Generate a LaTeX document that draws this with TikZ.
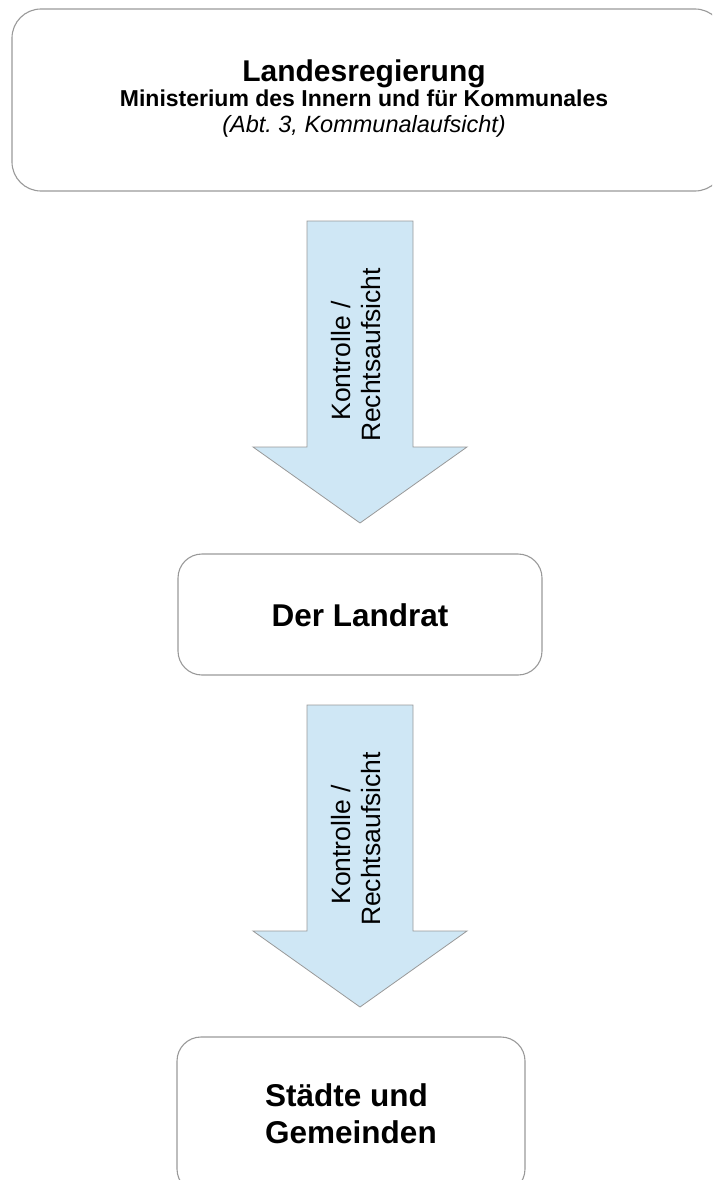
\documentclass[tikz,border=0pt]{standalone}
\usepackage{fontspec}
\setmainfont{Liberation Sans}
\frenchspacing
\definecolor{arrowfill}{HTML}{CFE7F5}
\definecolor{edgegray}{HTML}{999999}
\begin{document}
\begin{tikzpicture}[x=1pt,y=-1pt,
  boxstyle/.style={draw=edgegray, line width=1.1pt, rounded corners=24pt, inner sep=0pt},
  blockarrow/.style={draw=edgegray, line width=0.8pt, fill=arrowfill, line join=miter},
  arrowtext/.style={rotate=90, anchor=base, inner sep=0pt, font=\fontsize{26.5}{30}\selectfont},
  boxtext/.style={anchor=base, inner sep=0pt, font=\bfseries\fontsize{31.5}{36.7}\selectfont}]
\useasboundingbox (0,0) rectangle (712,1180);
\clip (0,0) rectangle (712,1180);
% boxes
\node[boxstyle, rounded corners=29pt, minimum width=712pt, minimum height=182pt] (landes) at (368,100) {};
\node[boxstyle, minimum width=364pt, minimum height=121pt] (landrat) at (360,614.5) {};
\node[boxstyle, minimum width=348pt, minimum height=156pt] (staedte) at (351,1115) {};
% top box text
\node[anchor=base, inner sep=0pt, font=\bfseries\fontsize{30}{34}\selectfont] (t1) at (364,82) {Landesregierung};
\node[anchor=base, inner sep=0pt, font=\bfseries\fontsize{23}{27}\selectfont] (t2) at (364,107) {Ministerium des Innern und für Kommunales};
\node[anchor=base, inner sep=0pt, font=\itshape\fontsize{23.5}{27}\selectfont] (t3) at (364,132) {(Abt.\ 3, Kommunalaufsicht)};
% landrat text
\node[boxtext] (lt) at (360,626) {Der Landrat};
% staedte text
\node[boxtext, anchor=base west] (s1) at (265,1106) {Städte und};
\node[boxtext, anchor=base west] (s2) at (265,1143) {Gemeinden};
% block arrows
\coordinate (a1) at (360,221);
\coordinate (a2) at (360,705);
\foreach \a in {a1,a2}{
  \draw[blockarrow, shift={(\a)}] (-53,0) -- (53,0) -- (53,226) -- (107,226) -- (0,302) -- (-107,226) -- (-53,226) -- cycle;
}
\node[arrowtext] (k1) at (350,361) {Kontrolle /};
\node[arrowtext] (r1) at (380,355) {Rechtsaufsicht};
\node[arrowtext] (k2) at (350,845) {Kontrolle /};
\node[arrowtext] (r2) at (380,839) {Rechtsaufsicht};
\end{tikzpicture}
\end{document}
